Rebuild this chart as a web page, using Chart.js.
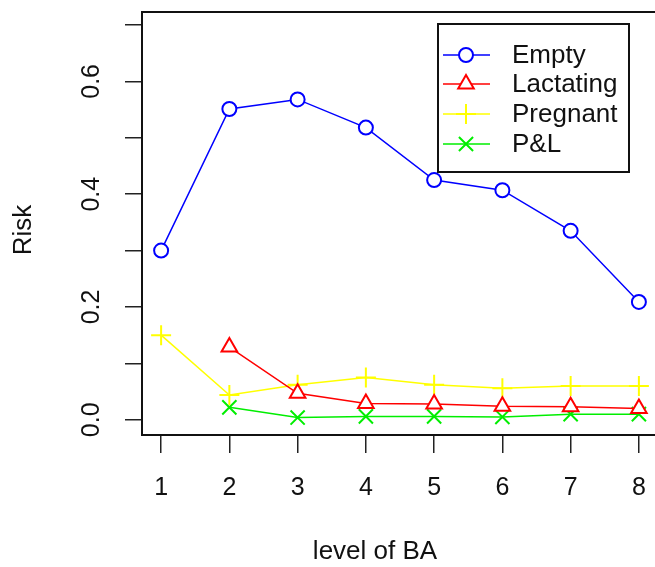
<!DOCTYPE html>
<html>
<head>
<meta charset="utf-8">
<script src="https://cdn.jsdelivr.net/npm/chart.js@4.4.1/dist/chart.umd.min.js"></script>
<style>
  html, body { margin: 0; padding: 0; background: #fff; overflow: hidden; }
  #wrap { width: 670px; height: 567px; }
</style>
</head>
<body>
<div id="wrap"><canvas id="chart" width="670" height="567"></canvas></div>
<script>
// level of BA on the x axis
const levels = [1, 2, 3, 4, 5, 6, 7, 8];
const seriesNames = ["Empty", "Lactating", "Pregnant", "P&L"];
const empty = [0.300, 0.551, 0.568, 0.518, 0.425, 0.407, 0.335, 0.209];
const lactating = [null, 0.129, 0.047, 0.029, 0.028, 0.024, 0.023, 0.020];
const pregnant = [0.150, 0.044, 0.062, 0.075, 0.062, 0.056, 0.060, 0.060];
const pAndL = [null, 0.022, 0.004, 0.006, 0.006, 0.005, 0.010, 0.010];

const FONT = "'Liberation Sans', Arial, sans-serif";

function points(vals) {
  return levels.map((l, i) => ({ x: l, y: vals[i] })).filter(p => p.y !== null);
}

function series(label, vals, color, style, radius) {
  return {
    label: label,
    data: points(vals),
    borderColor: color,
    backgroundColor: color,
    borderWidth: 1.5,
    pointStyle: style,
    pointRadius: radius,
    pointHoverRadius: radius,
    pointBorderColor: color,
    pointBackgroundColor: "rgba(255,255,255,1)",
    pointBorderWidth: 2,
    tension: 0,
    fill: false,
  };
}

// R style box round the plot region
const boxPlugin = {
  id: "box",
  afterDraw(chart) {
    const { ctx, chartArea: a } = chart;
    ctx.save();
    ctx.strokeStyle = "#111";
    ctx.lineWidth = 2;
    ctx.strokeRect(a.left, a.top, a.right - a.left, a.bottom - a.top);
    ctx.restore();
  },
};

// axis titles
const titlePlugin = {
  id: "titles",
  afterDraw(chart) {
    const ctx = chart.ctx;
    ctx.save();
    ctx.fillStyle = "#111";
    ctx.font = "26px " + FONT;
    ctx.textAlign = "center";
    ctx.textBaseline = "middle";
    ctx.fillText("level of BA", 375, 552);
    ctx.translate(24, 230);
    ctx.rotate(-Math.PI / 2);
    ctx.fillText("Risk", 0, 0);
    ctx.restore();
  },
};

// legend box inside the plot, like legend("topright", ...)
const legendPlugin = {
  id: "rlegend",
  afterDraw(chart) {
    const ctx = chart.ctx;
    const x0 = 438, y0 = 24, w = 191, h = 148;
    const rows = [55, 84, 114, 144];
    ctx.save();
    ctx.fillStyle = "#fff";
    ctx.fillRect(x0, y0, w, h);
    ctx.strokeStyle = "#111";
    ctx.lineWidth = 2;
    ctx.strokeRect(x0, y0, w, h);
    chart.data.datasets.forEach((ds, i) => {
      const y = rows[i];
      ctx.strokeStyle = ds.borderColor;
      ctx.lineWidth = 1.5;
      ctx.beginPath();
      ctx.moveTo(443, y);
      ctx.lineTo(490, y);
      ctx.stroke();
      ctx.fillStyle = "#fff";
      ctx.lineWidth = 2;
      Chart.helpers.drawPoint(ctx, { pointStyle: ds.pointStyle, radius: ds.pointRadius, rotation: 0, borderWidth: 2 }, 466, y);
      ctx.fillStyle = "#111";
      ctx.font = "26px " + FONT;
      ctx.textAlign = "left";
      ctx.textBaseline = "middle";
      ctx.fillText(ds.label, 512, y + 1);
    });
    ctx.restore();
  },
};

new Chart(document.getElementById("chart"), {
  type: "line",
  data: {
    datasets: [
      series(seriesNames[0], empty, "#0000ff", "circle", 7),
      series(seriesNames[1], lactating, "#ff0000", "triangle", 9),
      series(seriesNames[2], pregnant, "#ffff00", "cross", 10),
      series(seriesNames[3], pAndL, "#00ee00", "crossRot", 10),
    ],
  },
  options: {
    responsive: false,
    animation: false,
    devicePixelRatio: 1,
    layout: { padding: { top: 10, right: 4, left: 0, bottom: 0 } },
    plugins: {
      legend: { display: false },
      tooltip: { enabled: false },
    },
    scales: {
      x: {
        type: "linear",
        min: 0.72,
        max: 8.28,
        afterFit: (s) => { s.height = 132; s.paddingLeft = 0; s.paddingRight = 0; },
        border: { display: false },
        grid: { drawOnChartArea: false, tickLength: 18, color: "#222", lineWidth: 1.5 },
        ticks: {
          stepSize: 1,
          includeBounds: false,
          autoSkip: false,
          maxRotation: 0,
          color: "#111",
          padding: 20,
          font: { family: FONT, size: 25 },
        },
      },
      y: {
        type: "linear",
        min: -0.027,
        max: 0.723,
        afterFit: (s) => { s.width = 142; s.paddingTop = 0; s.paddingBottom = 0; },
        border: { display: false },
        grid: { drawOnChartArea: false, tickLength: 17, color: "#222", lineWidth: 1.5 },
        ticks: {
          stepSize: 0.1,
          includeBounds: false,
          autoSkip: false,
          minRotation: 90,
          maxRotation: 90,
          crossAlign: "center",
          padding: 16,
          color: "#111",
          font: { family: FONT, size: 25 },
          callback: (v) => (Math.round(v * 10) % 2 === 0 ? v.toFixed(1) : ""),
        },
      },
    },
  },
  plugins: [boxPlugin, titlePlugin, legendPlugin],
});
</script>
</body>
</html>
